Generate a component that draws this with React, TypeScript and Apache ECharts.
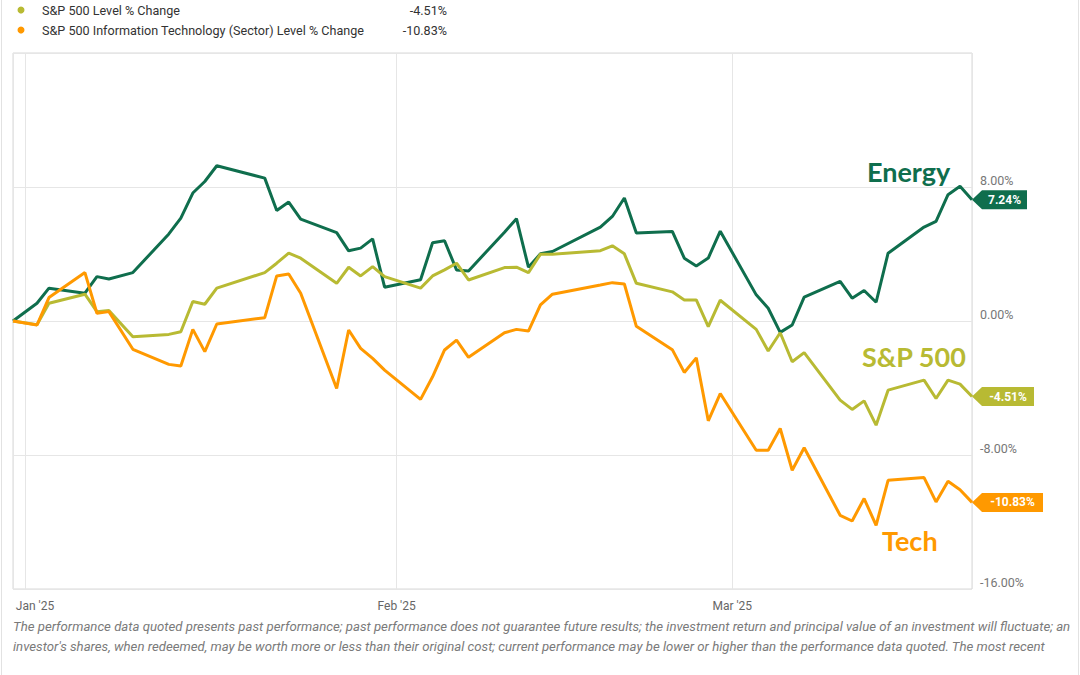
import React, { useEffect, useRef } from 'react';
import * as echarts from 'echarts';

const dates = [
  '2024-12-31',
  '2025-01-02', '2025-01-03', '2025-01-06', '2025-01-07', '2025-01-08', '2025-01-10',
  '2025-01-13', '2025-01-14', '2025-01-15', '2025-01-16', '2025-01-17', '2025-01-21',
  '2025-01-22', '2025-01-23', '2025-01-24', '2025-01-27', '2025-01-28', '2025-01-29',
  '2025-01-30', '2025-01-31',
  '2025-02-03', '2025-02-04', '2025-02-05', '2025-02-06', '2025-02-07', '2025-02-10',
  '2025-02-11', '2025-02-12', '2025-02-13', '2025-02-14', '2025-02-18', '2025-02-19',
  '2025-02-20', '2025-02-21', '2025-02-24', '2025-02-25', '2025-02-26', '2025-02-27',
  '2025-02-28',
  '2025-03-03', '2025-03-04', '2025-03-05', '2025-03-06', '2025-03-07', '2025-03-10',
  '2025-03-11', '2025-03-12', '2025-03-13', '2025-03-14', '2025-03-17', '2025-03-18',
  '2025-03-19', '2025-03-20', '2025-03-21',
];

const energy = [
  0,
  1.06, 1.96, 1.66, 2.65, 2.51, 2.89,
  5.2, 6.14, 7.64, 8.33, 9.27, 8.53,
  6.6, 7.1, 6.08, 5.28, 4.19, 4.35,
  4.9, 2.02,
  2.46, 4.67, 4.79, 3.05, 2.99, 5.3,
  6.11, 3.21, 4.01, 4.15, 5.6, 6.24,
  7.34, 5.25, 5.35, 3.75, 3.29, 3.76,
  5.36,
  1.56, 0.76, -0.68, -0.24, 1.42, 2.36,
  1.36, 1.82, 1.12, 4.05, 5.61, 5.95,
  7.54, 8.04, 7.24,
];

const sp500 = [
  0,
  -0.22, 1.06, 1.6, 0.56, 0.62, -0.94,
  -0.8, -0.64, 1.16, 1.0, 1.96, 2.89,
  3.45, 4.05, 3.75, 2.25, 3.21, 2.69,
  3.25, 2.65,
  1.96, 2.69, 3.05, 3.45, 2.45, 3.19,
  3.21, 2.89, 3.99, 3.99, 4.2, 4.49,
  4.01, 2.25, 1.74, 1.26, 1.26, -0.34,
  1.24,
  -0.5, -1.79, -0.7, -2.43, -1.89, -4.72,
  -5.28, -4.77, -6.22, -4.13, -3.53, -4.63,
  -3.53, -3.77, -4.51,
];

const tech = [
  0,
  -0.24, 1.4, 2.89, 0.46, 0.56, -1.69,
  -2.59, -2.69, -0.5, -1.83, -0.18, 0.2,
  2.69, 2.81, 1.66, -4.03, -0.54, -1.63,
  -2.23, -2.93,
  -4.68, -3.33, -1.73, -1.14, -2.17, -0.7,
  -0.5, -0.6, 0.96, 1.6, 2.15, 2.29,
  2.21, -0.32, -1.71, -3.07, -2.2, -5.96,
  -4.33,
  -7.72, -7.72, -6.42, -8.91, -7.57, -11.6,
  -11.94, -10.6, -12.2, -9.51, -9.35, -10.8,
  -9.57, -10.07, -10.83,
];

const legendNames = [
  'S&P 500 Level % Change',
  'S&P 500 Information Technology (Sector) Level % Change',
];
const legendValues = ['-4.51%', '-10.83%'];

const seriesLabels = ['Energy', 'S&P 500', 'Tech'];

const footer = [
  "The performance data quoted presents past performance; past performance does not guarantee future results; the investment return and principal value of an investment will fluctuate; an",
  "investor's shares, when redeemed, may be worth more or less than their original cost; current performance may be lower or higher than the performance data quoted. The most recent",
];

const months = ['Jan', 'Feb', 'Mar', 'Apr', 'May', 'Jun', 'Jul', 'Aug', 'Sep', 'Oct', 'Nov', 'Dec'];

const GREEN = '#0f6e4d';
const OLIVE = '#b8ba33';
const ORANGE = '#ff9900';

function tagPath(w: number) {
  return `path://M0,9.5L10,0L${w},0L${w},19L10,19Z`;
}

function makeSeries(name: string, values: number[], color: string, tagW: number) {
  const last = values.length - 1;
  return {
    name,
    type: 'line',
    data: dates.map((d, i) => [d, values[i]]),
    showSymbol: false,
    symbol: 'none',
    lineStyle: { width: 3, color },
    itemStyle: { color },
    z: 3,
    markPoint: {
      silent: true,
      symbol: tagPath(tagW),
      symbolSize: [tagW, 19],
      symbolOffset: [tagW / 2, 0],
      symbolKeepAspect: false,
      itemStyle: { color },
      label: {
        show: true,
        position: 'inside',
        offset: [5, 0],
        color: '#ffffff',
        fontFamily: 'Roboto',
        fontWeight: 'bold',
        fontSize: 12,
        formatter: () => values[last].toFixed(2) + '%',
      },
      data: [{ coord: [dates[last], values[last]] }],
    },
  };
}

export default function App() {
  const ref = useRef<HTMLDivElement>(null);

  useEffect(() => {
    if (!ref.current) return;
    const chart = echarts.init(ref.current, undefined, { renderer: 'svg' });

    const graphic: any[] = [
      { type: 'line', shape: { x1: 1.5, y1: 0, x2: 1.5, y2: 675 }, style: { stroke: '#e2e2e2', lineWidth: 1 } },
      { type: 'line', shape: { x1: 1078.5, y1: 0, x2: 1078.5, y2: 675 }, style: { stroke: '#e2e2e2', lineWidth: 1 } },
    ];
    const legendColors = [OLIVE, ORANGE];
    legendNames.forEach((n, i) => {
      const y = 10 + i * 20;
      graphic.push({ type: 'circle', shape: { cx: 21, cy: y, r: 3.5 }, style: { fill: legendColors[i] } });
      graphic.push({
        type: 'text', x: 42, y,
        style: { text: n, fill: '#333', font: '12.6px Roboto', verticalAlign: 'middle', align: 'left' },
      });
      graphic.push({
        type: 'text', x: 447, y,
        style: { text: legendValues[i], fill: '#333', font: '12.6px Roboto', verticalAlign: 'middle', align: 'right' },
      });
    });
    const annot = [
      { x: 867, y: 171, color: GREEN },
      { x: 862, y: 356, color: OLIVE },
      { x: 882, y: 540, color: ORANGE },
    ];
    seriesLabels.forEach((t, i) => {
      graphic.push({
        type: 'text', x: annot[i].x, y: annot[i].y,
        style: {
          text: t, fill: annot[i].color, font: 'bold 27px Lato',
          verticalAlign: 'middle', align: 'left',
        },
      });
    });
    footer.forEach((t, i) => {
      graphic.push({
        type: 'text', x: 13, y: 626 + i * 20,
        style: { text: t, fill: '#7a7a7a', font: 'italic 13.2px Roboto', verticalAlign: 'middle', align: 'left' },
      });
    });

    chart.setOption({
      animation: false,
      backgroundColor: '#ffffff',
      grid: {
        left: 13, top: 53, right: 108, bottom: 86,
        show: true, borderColor: '#d9d9d9', borderWidth: 1, containLabel: false,
      },
      xAxis: {
        type: 'time',
        min: '2024-12-31',
        max: '2025-03-21',
        minInterval: 28 * 86400000,
        maxInterval: 31 * 86400000,
        axisLine: { show: false },
        axisTick: { show: false },
        splitLine: { show: true, lineStyle: { color: '#e6e6e6', width: 1 } },
        axisLabel: {
          margin: 11,
          color: '#666',
          fontFamily: 'Roboto',
          fontSize: 12,
          showMinLabel: false,
          formatter: (v: number) => {
            const d = new Date(v);
            const s = months[d.getMonth()] + " '" + String(d.getFullYear()).slice(2);
            return d.getMonth() === 0 ? '{a|' + s + '}' : s;
          },
          rich: { a: { padding: [0, 0, 0, 20], color: '#666', fontFamily: 'Roboto', fontSize: 12 } },
        },
      },
      yAxis: {
        type: 'value',
        position: 'right',
        min: -16,
        max: 16,
        interval: 8,
        axisLine: { show: false },
        axisTick: { show: false },
        splitLine: { show: true, lineStyle: { color: '#e6e6e6', width: 1 } },
        axisLabel: {
          margin: 8,
          color: '#777',
          fontFamily: 'Roboto',
          fontSize: 12.5,
          verticalAlign: 'bottom',
          formatter: (v: number) => (v === 16 ? '' : v.toFixed(2) + '%'),
        },
      },
      series: [
        makeSeries('Energy', energy, GREEN, 55),
        makeSeries('S&P 500', sp500, OLIVE, 62),
        makeSeries('Tech', tech, ORANGE, 71),
      ],
      graphic,
    });

    return () => chart.dispose();
  }, []);

  return (
    <div
      ref={ref}
      style={{ position: 'fixed', left: 0, top: 0, width: 1080, height: 675, background: '#fff' }}
    />
  );
}
